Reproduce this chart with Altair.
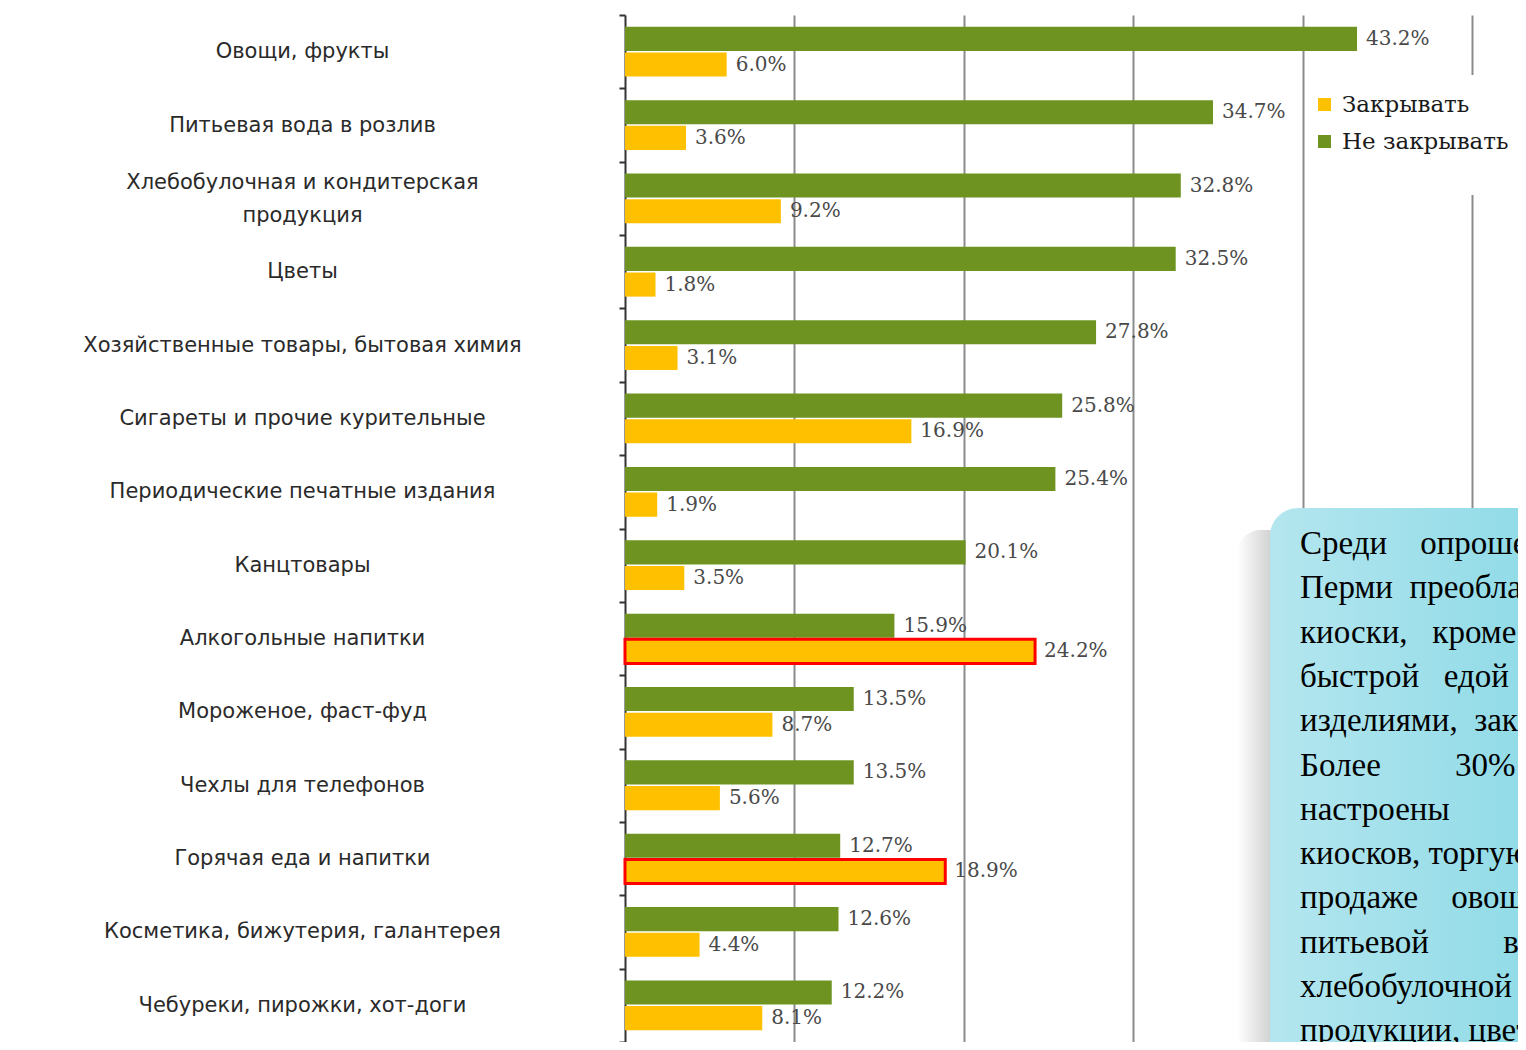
import altair as alt
import pandas as pd

# ---------------- data ----------------
categories = [
    "Овощи, фрукты",
    "Питьевая вода в розлив",
    "Хлебобулочная и кондитерская|продукция",
    "Цветы",
    "Хозяйственные товары, бытовая химия",
    "Сигареты и прочие курительные",
    "Периодические печатные издания",
    "Канцтовары",
    "Алкогольные напитки",
    "Мороженое, фаст-фуд",
    "Чехлы для телефонов",
    "Горячая еда и напитки",
    "Косметика, бижутерия, галантерея",
    "Чебуреки, пирожки, хот-доги",
]
keep_open = [43.2, 34.7, 32.8, 32.5, 27.8, 25.8, 25.4, 20.1, 15.9, 13.5, 13.5, 12.7, 12.6, 12.2]
close_down = [6.0, 3.6, 9.2, 1.8, 3.1, 16.9, 1.9, 3.5, 24.2, 8.7, 5.6, 18.9, 4.4, 8.1]
highlight = [0, 0, 0, 0, 0, 0, 0, 0, 1, 0, 0, 1, 0, 0]
series_order = ["Не закрывать", "Закрывать"]       # top bar, bottom bar
legend_order = ["Закрывать", "Не закрывать"]
legend_colors = ["#ffc000", "#6f9320"]
x_ticks = [10, 20, 30, 40, 50]

N = "\u00a0"
box_lines = [
    "Среди" + N * 4 + "опрошенных",
    "Перми" + N * 2 + "преобладают",
    "киоски," + N * 3 + "кроме",
    "быстрой" + N * 3 + "едой",
    "изделиями," + N * 2 + "закрыть",
    "Более" + N * 9 + "30%",
    "настроены",
    "киосков," + N + "торгующих",
    "продаже" + N * 4 + "овощей",
    "питьевой" + N * 9 + "воды,",
    "хлебобулочной",
    "продукции, цветов",
]

rows = []
for i, c in enumerate(categories):
    rows.append({"cat": c, "series": series_order[0], "value": keep_open[i], "hl": 0})
    rows.append({"cat": c, "series": series_order[1], "value": close_down[i], "hl": highlight[i]})
df = pd.DataFrame(rows)
one = pd.DataFrame({"a": [0]})

W, H = 893, 1027
XMAX = 52.7

xscale = alt.Scale(domain=[0, XMAX], nice=False, zero=True)
yenc = alt.Y(
    "cat:N", sort=categories,
    scale=alt.Scale(paddingInner=0, paddingOuter=0),
    axis=alt.Axis(
        title=None, labelAlign="center", labelPadding=317, labelLimit=700,
        labelFont="DejaVu Sans", labelFontSize=21, labelColor="#2a2a2a",
        labelExpr="split(datum.label, '|')", labelLineHeight=33,
        labelOffset={"condition": {"test": "indexof(datum.label, '|') >= 0", "value": -16}, "value": 0},
        labelOverlap=False, labelBound=False,
        tickBand="extent", tickSize=6, tickColor="#333333", tickWidth=2,
        domainColor="#333333", domainWidth=2, grid=False,
    ),
)
yoff = alt.YOffset("series:N", sort=series_order,
                   scale=alt.Scale(paddingInner=0.06, paddingOuter=0.46))

bars = alt.Chart(df).mark_bar(stroke="#ff0000").encode(
    x=alt.X("value:Q", scale=xscale,
            axis=alt.Axis(values=x_ticks, grid=True, gridColor="#8c8c8c", gridWidth=2,
                          labels=False, ticks=False, domain=False, title=None)),
    y=yenc,
    yOffset=yoff,
    color=alt.Color("series:N",
                    scale=alt.Scale(domain=legend_order, range=legend_colors),
                    legend=alt.Legend(
                        title=None, orient="none", legendX=688, legendY=78,
                        padding=0, symbolType="square", symbolSize=170,
                        symbolStrokeWidth=0, labelFont="DejaVu Serif",
                        labelFontSize=23, labelColor="#1a1a1a", labelOffset=6,
                        rowPadding=13, labelLimit=400,
                    )),
    strokeWidth=alt.condition("datum.hl == 1", alt.value(3), alt.value(0)),
)

labels = alt.Chart(df).transform_calculate(
    lab="format(datum.value, '.1f') + '%'"
).mark_text(align="left", baseline="middle", dx=9, font="DejaVu Serif",
            fontSize=20, color="#4a4a4a").encode(
    x=alt.X("value:Q", scale=xscale),
    y=alt.Y("cat:N", sort=categories),
    yOffset=alt.YOffset("series:N", sort=series_order),
    text="lab:N",
)

legend_bg = alt.Chart(one).mark_rect(fill="white").encode(
    x=alt.value(685), x2=alt.value(960), y=alt.value(60), y2=alt.value(180)
)

shadow = alt.Chart(one).mark_rect(
    cornerRadius=24,
    fill={"gradient": "linear", "x1": 0, "x2": 1, "y1": 0, "y2": 0,
          "stops": [{"offset": 0, "color": "#ffffff"},
                    {"offset": 0.12, "color": "#c4c4c4"},
                    {"offset": 1, "color": "#a8a8a8"}]},
).encode(x=alt.value(612), x2=alt.value(980), y=alt.value(515), y2=alt.value(1100))

box = alt.Chart(one).mark_rect(
    cornerRadius=28,
    fill={"gradient": "linear", "x1": 0, "x2": 1, "y1": 0, "y2": 0,
          "stops": [{"offset": 0, "color": "#b4e6ef"},
                    {"offset": 1, "color": "#86d8e5"}]},
).encode(x=alt.value(645), x2=alt.value(980), y=alt.value(493), y2=alt.value(1100))

box_text = alt.Chart(one).mark_text(
    align="left", baseline="alphabetic", font="Liberation Serif", fontSize=33,
    lineHeight=44.3, lineBreak="\n", color="#000000",
).encode(x=alt.value(675), y=alt.value(539), text=alt.value("\n".join(box_lines)))

chart = alt.layer(bars, labels, legend_bg, shadow, box, box_text).properties(
    width=W, height=H,
    autosize=alt.AutoSizeParams(type="none"),
    padding={"left": 617, "top": 7, "right": 0, "bottom": 0},
).configure_view(stroke=None)

chart.save("out.html", embed_options={"renderer": "svg", "actions": False})
